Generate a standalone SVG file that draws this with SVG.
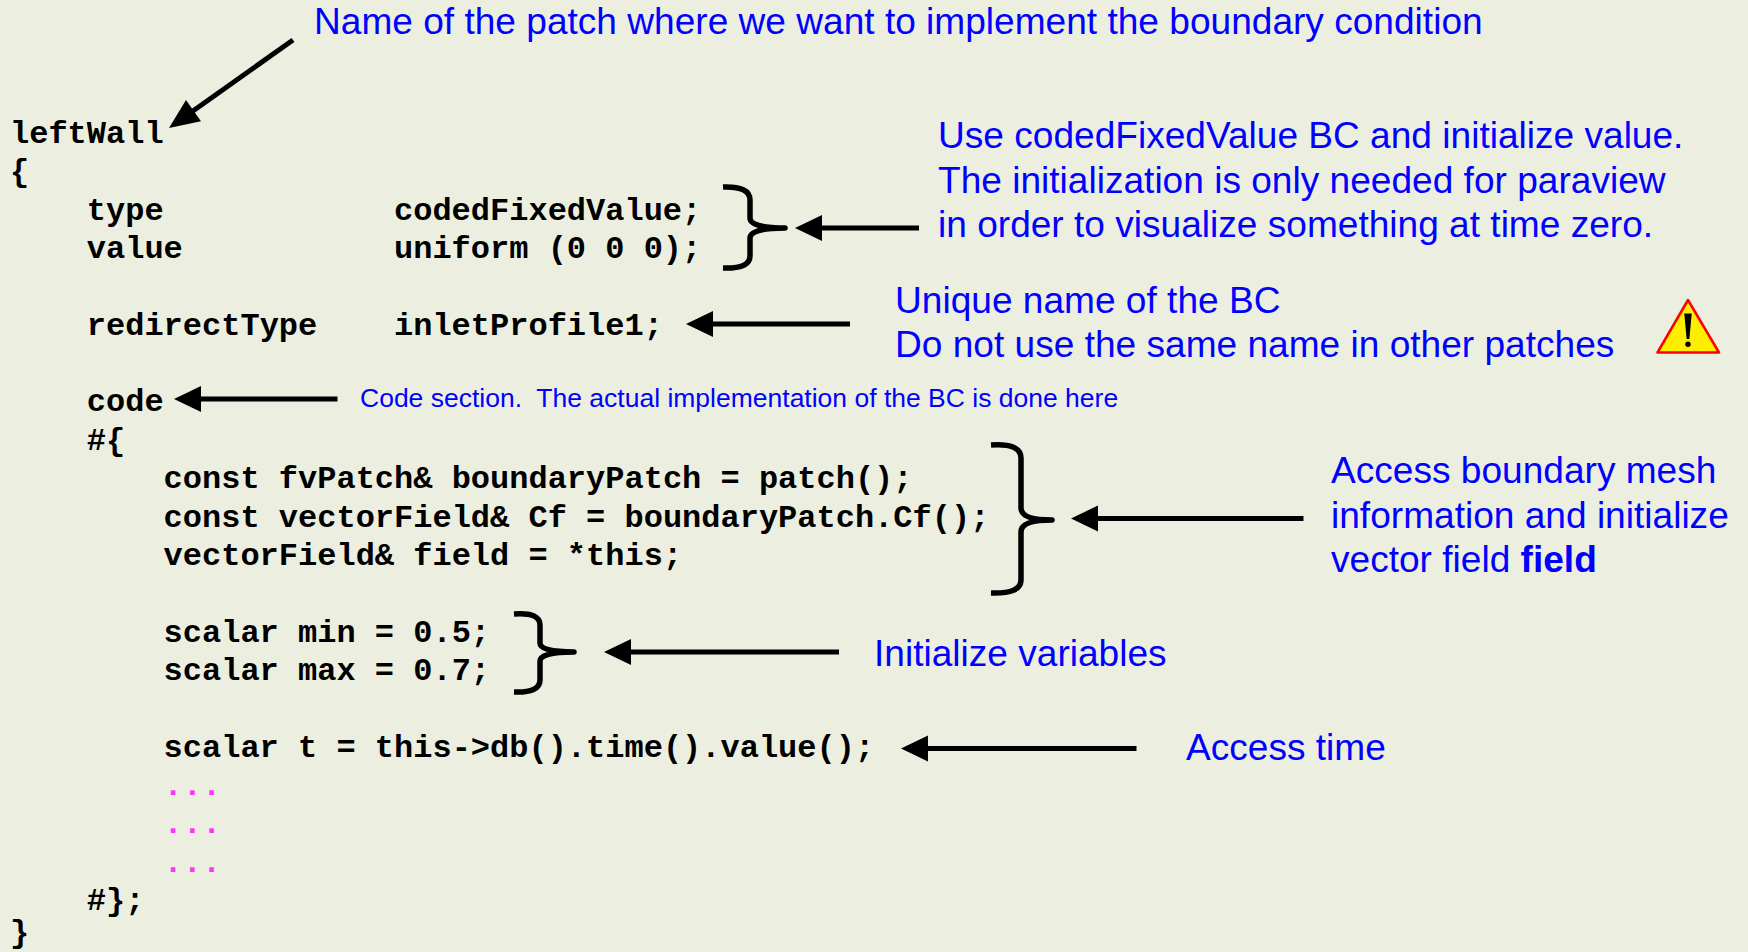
<svg xmlns="http://www.w3.org/2000/svg" width="1748" height="952" viewBox="0 0 1748 952">
<style>
.code{font-family:"Liberation Mono","Courier New",monospace;font-weight:bold;font-size:32px;fill:#000}
.dots{font-family:"Liberation Mono","Courier New",monospace;font-weight:bold;font-size:32px;fill:#FF33FF}
.note{font-family:"Liberation Sans",Arial,sans-serif;font-size:37.1px;fill:#0000FF}
.small{font-family:"Liberation Sans",Arial,sans-serif;font-size:26.5px;fill:#0000FF}
.ln{stroke:#000;stroke-width:5;fill:none}
.brace{stroke:#000;stroke-width:5.5;fill:none;stroke-linecap:butt;stroke-linejoin:round}
.head{fill:#000}
</style>
<rect width="1748" height="952" fill="#ECEFE0"/>
<g id="code">
<text class="code" x="10" y="143">leftWall</text>
<text class="code" x="10" y="181.35">{</text>
<text class="code" x="86.8" y="219.7">type</text>
<text class="code" x="394" y="219.7">codedFixedValue;</text>
<text class="code" x="86.8" y="258.05">value</text>
<text class="code" x="394" y="258.05" xml:space="preserve">uniform (0 0 0);</text>
<text class="code" x="86.8" y="334.75">redirectType</text>
<text class="code" x="394" y="334.75">inletProfile1;</text>
<text class="code" x="86.8" y="411.45">code</text>
<text class="code" x="86.8" y="449.8">#{</text>
<text class="code" x="163.6" y="488.15" xml:space="preserve">const fvPatch&amp; boundaryPatch = patch();</text>
<text class="code" x="163.6" y="526.5" xml:space="preserve">const vectorField&amp; Cf = boundaryPatch.Cf();</text>
<text class="code" x="163.6" y="564.85" xml:space="preserve">vectorField&amp; field = *this;</text>
<text class="code" x="163.6" y="641.55" xml:space="preserve">scalar min = 0.5;</text>
<text class="code" x="163.6" y="679.9" xml:space="preserve">scalar max = 0.7;</text>
<text class="code" x="163.6" y="756.6" xml:space="preserve">scalar t = this-&gt;db().time().value();</text>
<text class="dots" x="163.6" y="794.95">...</text>
<text class="dots" x="163.6" y="833.3">...</text>
<text class="dots" x="163.6" y="871.65">...</text>
<text class="code" x="86.8" y="910">#};</text>
<text class="code" x="10" y="942">}</text>
</g>
<g id="note-patch">
<text class="note" x="314" y="34">Name of the patch where we want to implement the boundary condition</text>
</g>
<g id="note-type">
<text class="note" x="938" y="148">Use codedFixedValue BC and initialize value.</text>
<text class="note" x="938" y="193">The initialization is only needed for paraview</text>
<text class="note" x="938" y="237">in order to visualize something at time zero.</text>
</g>
<g id="note-name">
<text class="note" x="895" y="313">Unique name of the BC</text>
<text class="note" x="895" y="357">Do not use the same name in other patches</text>
</g>
<g id="warning-icon">
<path d="M1688,300 L1719,352.5 L1657.5,352.5 Z" fill="#FFEE00" stroke="#FF0000" stroke-width="2.5" stroke-linejoin="round"/>
<path d="M1684.3,313.5 L1691.7,313.5 L1689.4,339 L1686.6,339 Z" fill="#000"/>
<circle cx="1688" cy="344.2" r="2.7" fill="#000"/>
</g>
<g id="note-code">
<text class="small" x="360" y="407" xml:space="preserve">Code section.  The actual implementation of the BC is done here</text>
</g>
<g id="note-mesh">
<text class="note" x="1331" y="483">Access boundary mesh</text>
<text class="note" x="1331" y="528">information and initialize</text>
<text class="note" x="1331" y="572">vector field <tspan font-weight="bold">field</tspan></text>
</g>
<g id="note-vars">
<text class="note" x="874" y="666">Initialize variables</text>
</g>
<g id="note-time">
<text class="note" x="1186" y="760">Access time</text>
</g>
<g id="connectors">
<path class="brace" d="M723,187 Q750,186 750,200 L750,218 Q750,228 785,228 Q750,228 750,238 L750,256 Q750,269 723,268"/>
<path class="brace" d="M991,445 Q1021,443 1021,458 L1021,508 Q1021,520 1052,520 Q1021,520 1021,532 L1021,580 Q1021,594 991,593"/>
<path class="brace" d="M514,614 Q540,612 540,625 L540,643 Q540,652 574,652 Q540,652 540,661 L540,680 Q540,693 514,692"/>
<line class="ln" x1="293" y1="40" x2="188" y2="114.5"/>
<path class="head" d="M169,128 L201,121.2 L186,100 Z"/>
<line class="ln" x1="919" y1="228" x2="815" y2="228"/>
<path class="head" d="M795,228 L822,215 L822,241 Z"/>
<line class="ln" x1="850" y1="324" x2="705" y2="324"/>
<path class="head" d="M686,324 L713,311 L713,337 Z"/>
<line class="ln" x1="337.5" y1="399" x2="195" y2="399"/>
<path class="head" d="M174,399 L201,386 L201,412 Z"/>
<line class="ln" x1="1303.5" y1="518.5" x2="1090" y2="518.5"/>
<path class="head" d="M1071,518.5 L1098,505.5 L1098,531.5 Z"/>
<line class="ln" x1="839" y1="652" x2="625" y2="652"/>
<path class="head" d="M604,652 L631,639 L631,665 Z"/>
<line class="ln" x1="1136.5" y1="748.5" x2="922" y2="748.5"/>
<path class="head" d="M901,748.5 L928,735.5 L928,761.5 Z"/>
</g>
</svg>
